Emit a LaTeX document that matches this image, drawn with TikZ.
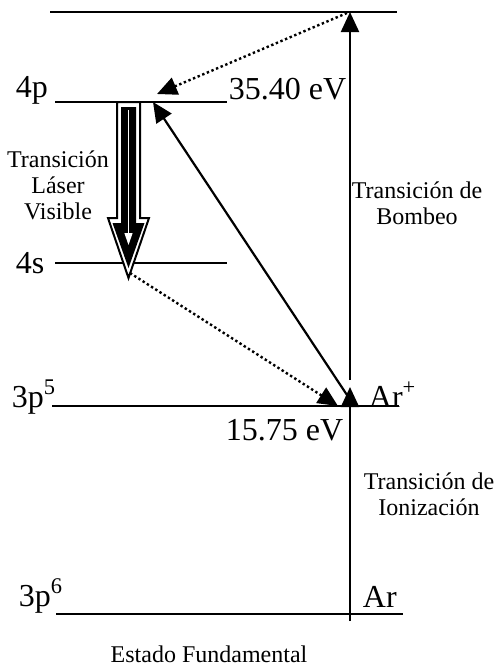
\documentclass[tikz,border=0pt]{standalone}
\usepackage{fontspec}
\setmainfont{Liberation Serif}
\usetikzlibrary{arrows.meta}
\begin{document}
\begin{tikzpicture}[x=.5pt,y=-.5pt,line width=.9pt,
  grande/.style={font=\fontsize{16}{18}\selectfont,inner sep=0pt},
  chico/.style={font=\fontsize{12}{13}\selectfont,align=center,inner sep=0pt},
  post/.style={-{Triangle[width=9pt,length=10pt]},line width=1.1pt},
  punto/.style={post,dash pattern=on 1.2pt off 1.3pt,line width=1.2pt}]
\useasboundingbox (0,0) rectangle (497,666);

% niveles
\draw (50,12) -- (397,12);
\draw (55,102) -- (227,102);
\draw (55,263) -- (227,263);
\draw (52,406) -- (399,406);
\draw (56,614) -- (403,614);

\node[grande,anchor=base west] (n4p) at (15,97) {4p};
\node[grande,anchor=base west] (n4s) at (15,273) {4s};
\node[grande,anchor=base west] (n3p5) at (11,407) {3p\textsuperscript{5}};
\node[grande,anchor=base west] (n3p6) at (18,606) {3p\textsuperscript{6}};
\node[grande,anchor=base west] (e1) at (228,99) {35.40 eV};
\node[grande,anchor=base west] (e2) at (225,440) {15.75 eV};
\node[grande,anchor=base west] (arp) at (368,407) {Ar\textsuperscript{+}};
\node[grande,anchor=base west] (ar) at (362,607) {Ar};

\node[chico] (laser) at (58,185) {Transición\\Láser\\Visible};
\node[chico] (bombeo) at (417,203) {Transición de\\Bombeo};
\node[chico] (ioniz) at (429,494) {Transición de\\Ionización};
\node[chico,anchor=base] (fund) at (209,662) {Estado Fundamental};

% puntos de las flechas
\coordinate (sup) at (350,12);
\coordinate (sup-b) at (347,13);
\coordinate (ion-a) at (350,621);
\coordinate (ion-b) at (350,387);
\coordinate (bom-a) at (350,380);
\coordinate (dia-a) at (347,395);
\coordinate (dia-b) at (153,102);
\coordinate (pun-b) at (157,94);
\coordinate (s4-a) at (130,273);
\coordinate (s4-b) at (338,406);

\draw[post] (ion-a) -- (ion-b);
\draw[post] (bom-a) -- (sup);
\draw[post] (dia-a) -- (dia-b);
\draw[punto] (sup-b) -- (pun-b);
\draw[punto] (s4-a) -- (s4-b);

% flecha laser
\draw[fill=white,line width=1pt] (117,102) -- (117,218) -- (108,218) -- (128.5,278)
  -- (149,218) -- (140,218) -- (140,102) -- cycle;
\fill (121,107) -- (121,223) -- (112.5,223) -- (128.5,268) -- (144.5,223) -- (136,223)
  -- (136,107) -- cycle;
\draw[white,line width=.6pt,-{Triangle[width=4pt,length=6pt]}] (128.5,110) -- (128.5,245);

\end{tikzpicture}
\end{document}
